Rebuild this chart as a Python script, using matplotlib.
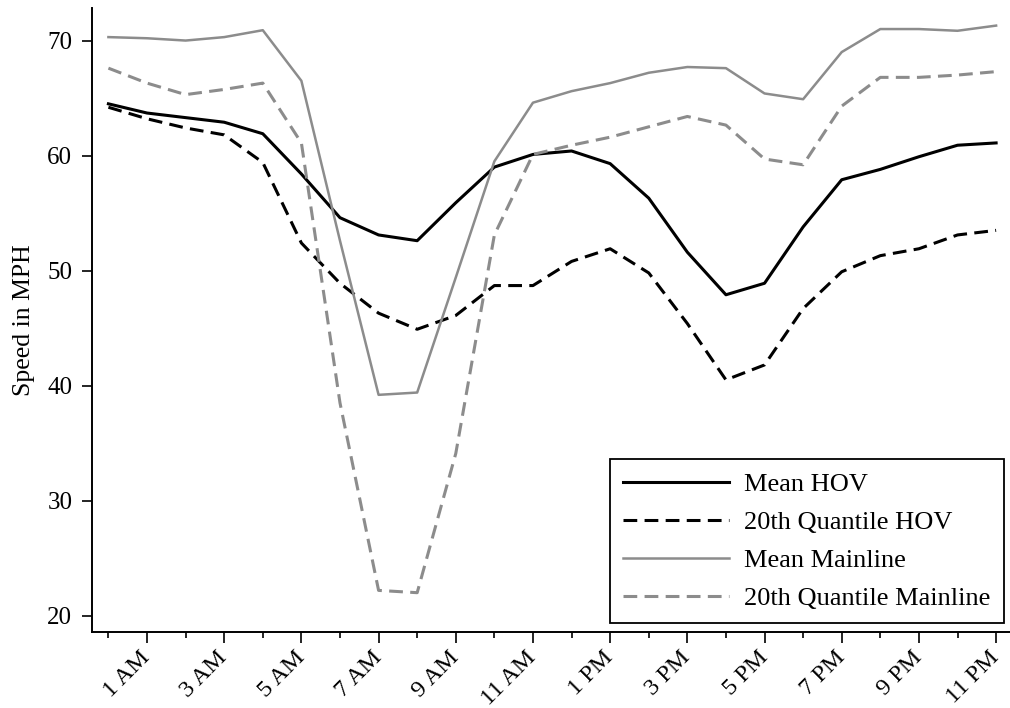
import matplotlib
matplotlib.use("Agg")
import matplotlib.pyplot as plt

# Hour of day (0 = midnight)
hours = list(range(24))

# Speeds in MPH
mean_hov = [64.5, 63.7, 63.3, 62.9, 61.9, 58.4, 54.6, 53.1, 52.6, 55.9, 59.0, 60.1,
            60.4, 59.3, 56.3, 51.6, 47.9, 48.9, 53.8, 57.9, 58.8, 59.9, 60.9, 61.1]
q20_hov = [64.2, 63.2, 62.4, 61.8, 59.4, 52.4, 48.9, 46.3, 44.9, 46.1, 48.7, 48.7,
           50.8, 51.9, 49.8, 45.4, 40.5, 41.8, 46.7, 49.9, 51.3, 51.9, 53.1, 53.5]
mean_main = [70.3, 70.2, 70.0, 70.3, 70.9, 66.5, 52.6, 39.2, 39.4, 49.4, 59.5, 64.6,
             65.6, 66.3, 67.2, 67.7, 67.6, 65.4, 64.9, 69.0, 71.0, 71.0, 70.85, 71.3]
q20_main = [67.6, 66.3, 65.3, 65.75, 66.3, 61.1, 38.5, 22.2, 22.0, 34.1, 53.1, 60.1,
            60.9, 61.6, 62.5, 63.4, 62.65, 59.7, 59.2, 64.3, 66.8, 66.8, 67.0, 67.3]

tick_hours = [1, 3, 5, 7, 9, 11, 13, 15, 17, 19, 21, 23]
tick_labels = ["1 AM", "3 AM", "5 AM", "7 AM", "9 AM", "11 AM",
               "1 PM", "3 PM", "5 PM", "7 PM", "9 PM", "11 PM"]
y_ticks = [20, 30, 40, 50, 60, 70]

plt.rcParams["font.family"] = ["Liberation Serif", "DejaVu Serif"]

fig = plt.figure(figsize=(10.1, 7.08), dpi=100)
ax = fig.add_axes([0.0911, 0.1073, 0.9089, 0.8814])

gray = "#8c8c8c"
dash = (0, (4.5, 2.4))
ax.plot(hours, mean_hov, color="black", lw=2.2, label="Mean HOV")
ax.plot(hours, q20_hov, color="black", lw=2.2, linestyle=dash, label="20th Quantile HOV")
ax.plot(hours, mean_main, color=gray, lw=1.8, label="Mean Mainline")
ax.plot(hours, q20_main, color=gray, lw=2.2, linestyle=dash, label="20th Quantile Mainline")

ax.set_xlim(-0.425, 23.36)
ax.set_ylim(18.58, 72.83)

for side in ("top", "right"):
    ax.spines[side].set_visible(False)
for side in ("left", "bottom"):
    ax.spines[side].set_linewidth(1.4)

ax.set_yticks(y_ticks)
ax.set_xticks(tick_hours)
ax.set_xticklabels(tick_labels, rotation=45, ha="right", va="center", rotation_mode="anchor")
ax.set_xticks([h for h in hours if h % 2 == 0], minor=True)

ax.tick_params(axis="y", which="major", length=7.2, width=1.2, labelsize=18, pad=7)
ax.tick_params(axis="x", which="major", length=8, width=1.2, labelsize=17.5, pad=8)
ax.tick_params(axis="x", which="minor", length=4.3, width=1.2)

ax.set_ylabel("Speed in MPH", fontsize=18.5)
ax.yaxis.set_label_coords(-0.062, 0.5)

leg = ax.legend(loc="lower right", bbox_to_anchor=(0.9935, 0.0144), borderaxespad=0,
                fontsize=19, handlelength=4.0, handletextpad=0.6, labelspacing=0.55,
                borderpad=0.5, fancybox=False, framealpha=1, edgecolor="black")
leg.get_frame().set_linewidth(1.3)

fig.savefig("out.png", dpi=100)
